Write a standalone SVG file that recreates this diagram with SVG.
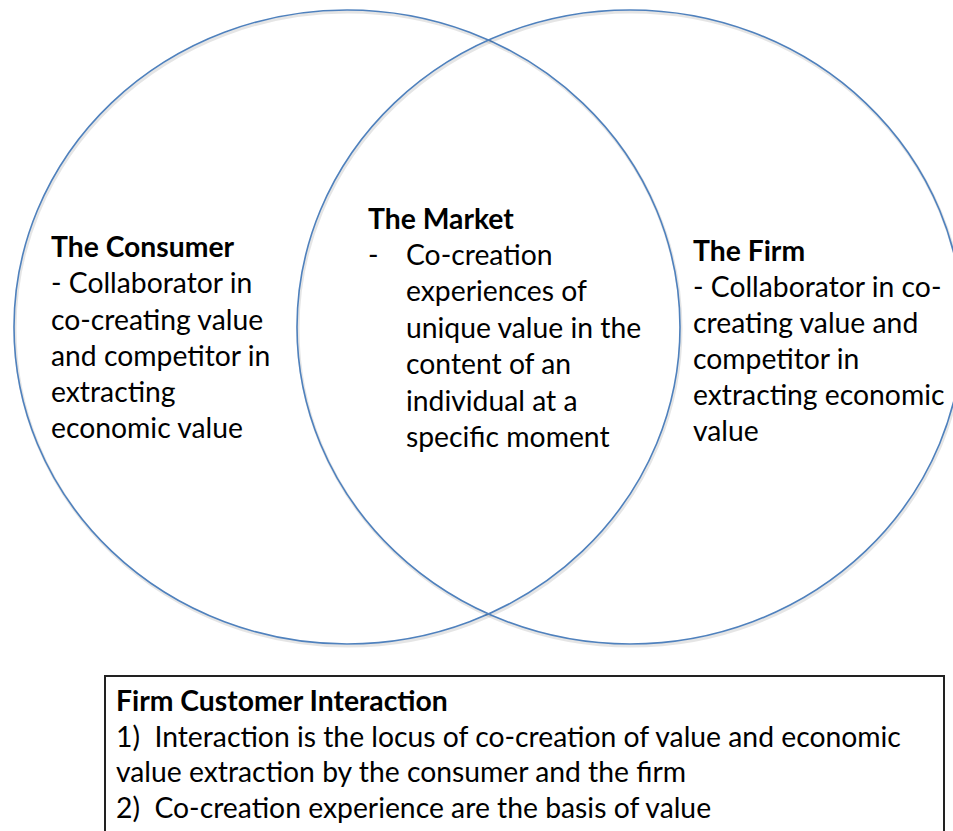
<svg xmlns="http://www.w3.org/2000/svg" width="953" height="831" viewBox="0 0 953 831">
  <style>
    .ring { fill: none; stroke: #4F81BD; stroke-width: 1.6; }
    .shadow { fill: none; stroke: #000; stroke-opacity: 0.1; stroke-width: 3; }
    .t { font-family: Lato, "Open Sans", "Liberation Sans", sans-serif; font-size: 28.3px; fill: #000; }
    .b { font-weight: bold; }
    .box { fill: #fff; stroke: #222; stroke-width: 2; }
  </style>
  <rect width="953" height="831" fill="#fff"/>
  <g id="consumer-circle">
    <ellipse class="shadow" cx="348" cy="329" rx="333" ry="317"/>
    <ellipse class="ring" cx="347" cy="327" rx="333" ry="317"/>
  </g>
  <g id="firm-circle">
    <ellipse class="shadow" cx="631" cy="329" rx="333" ry="317"/>
    <ellipse class="ring" cx="630" cy="327" rx="333" ry="317"/>
  </g>
  <g id="consumer">
    <text class="t b" x="51" y="257">The Consumer</text>
    <text class="t" x="51" y="293">- Collaborator in</text>
    <text class="t" x="51" y="330">co-creating value</text>
    <text class="t" x="51" y="366">and competitor in</text>
    <text class="t" x="51" y="402">extracting</text>
    <text class="t" x="51" y="438">economic value</text>
  </g>
  <g id="market">
    <text class="t b" x="368" y="229">The Market</text>
    <text class="t" x="368" y="265">-</text>
    <text class="t" x="406" y="265">Co-creation</text>
    <text class="t" x="406" y="301">experiences of</text>
    <text class="t" x="406" y="338">unique value in the</text>
    <text class="t" x="406" y="374">content of an</text>
    <text class="t" x="406" y="411">individual at a</text>
    <text class="t" x="406" y="447">specific moment</text>
  </g>
  <g id="firm">
    <text class="t b" x="693" y="261">The Firm</text>
    <text class="t" x="693" y="297">- Collaborator in co-</text>
    <text class="t" x="693" y="333">creating value and</text>
    <text class="t" x="693" y="369">competitor in</text>
    <text class="t" x="693" y="405">extracting economic</text>
    <text class="t" x="693" y="441">value</text>
  </g>
  <g id="interaction">
    <rect class="box" x="105" y="676" width="839" height="170"/>
    <text class="t b" x="116" y="711">Firm Customer Interaction</text>
    <text class="t" x="116" y="747" xml:space="preserve">1)  Interaction is the locus of co-creation of value and economic</text>
    <text class="t" x="116" y="782">value extraction by the consumer and the firm</text>
    <text class="t" x="116" y="818" xml:space="preserve">2)  Co-creation experience are the basis of value</text>
  </g>
  <g id="connectors"/>
</svg>
